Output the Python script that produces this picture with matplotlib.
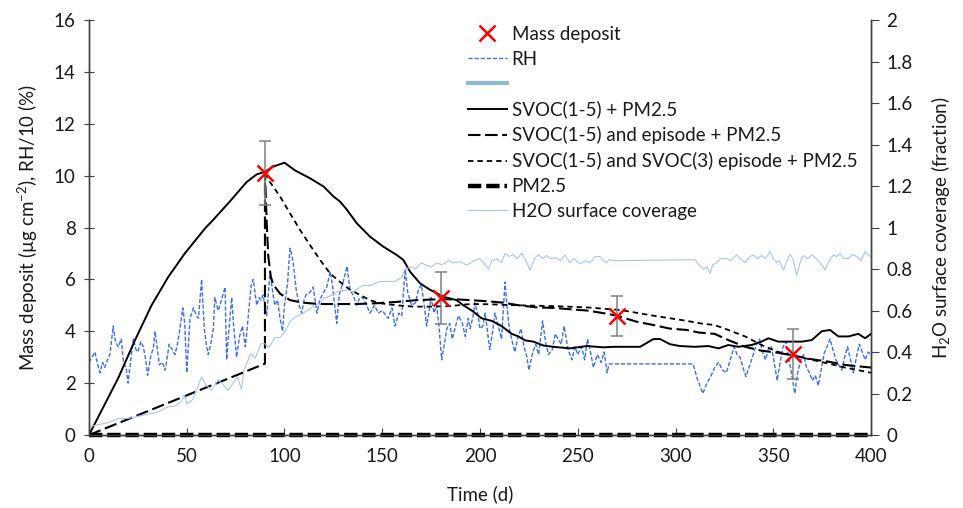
import matplotlib
matplotlib.use("Agg")
import matplotlib.pyplot as plt
from matplotlib.lines import Line2D
from matplotlib.ticker import FuncFormatter, MultipleLocator

# measured mass deposit with error bars
mass_days = [90, 180, 270, 360]
mass_vals = [10.1, 5.27, 4.59, 3.12]
mass_err = [1.25, 1.0, 0.77, 0.97]

# SVOC(1-5) + PM2.5
svoc_days = [0, 15, 23.5, 32, 40.6, 49, 59.3, 63.6, 72, 80.6, 85.8, 90, 94.3, 100,
             105.4, 113, 120, 125, 128.4, 131.8, 137, 143.7, 150.6, 157.4, 160.8,
             164.2, 169.3, 174.4, 181.3, 188, 191.5, 195.8, 200.8, 206, 211, 216.2,
             219.6, 223, 227.3, 232.4, 237.5, 246, 254.6, 263, 268.2, 281.9, 288.7,
             292.1, 297.2, 302.3, 310, 316.8, 322, 327, 332, 339, 344, 347.5, 352.6,
             357.7, 364.6, 369.7, 374.8, 379, 383.3, 388.4, 393.5, 397, 400]
svoc_vals = [0, 2.2, 3.65, 5.0, 6.1, 7.0, 7.96, 8.3, 9.0, 9.75, 10.05, 10.15, 10.35, 10.5,
             10.2, 9.9, 9.58, 9.2, 9.0, 8.7, 8.16, 7.65, 7.26, 6.94, 6.75,
             6.3, 5.85, 5.6, 5.33, 5.2, 5.0, 4.8, 4.5, 4.4, 4.2, 3.9,
             3.8, 3.65, 3.6, 3.45, 3.4, 3.34, 3.43, 3.38, 3.4, 3.4, 3.7,
             3.7, 3.5, 3.43, 3.4, 3.43, 3.34, 3.47, 3.4, 3.47, 3.6, 3.73, 3.6,
             3.6, 3.6, 3.66, 4.0, 4.05, 3.8, 3.8, 3.9, 3.73, 3.9]

# SVOC(1-5) and episode + PM2.5
epi_days = [0, 90, 90, 91, 91.7, 93, 94.3, 97.7, 102.8, 109.6, 118, 127, 137, 147,
            157, 167.6, 178, 188, 195, 205, 212, 220, 229, 237.5, 246, 254.6, 263,
            270, 280, 288.7, 297.2, 305.8, 312, 320, 327, 335.6, 344, 352.6, 361,
            369.7, 378, 386.7, 400]
epi_vals = [0, 2.75, 10.1, 8.0, 6.9, 6.1, 5.8, 5.45, 5.2, 5.1, 5.05, 5.05, 5.05, 5.08,
            5.13, 5.2, 5.23, 5.23, 5.2, 5.15, 5.1, 5.0, 4.92, 4.9, 4.85, 4.8, 4.7,
            4.6, 4.37, 4.24, 4.1, 4.05, 3.95, 3.9, 3.66, 3.4, 3.25, 3.17, 3.05,
            2.92, 2.83, 2.7, 2.6]

# SVOC(1-5) and SVOC(3) episode + PM2.5
epi3_days = [90, 92.6, 97.7, 102.8, 108, 113, 118.2, 123.3, 128.4, 133.5, 138.6,
             143.7, 148.9, 157.4, 165.9, 174.4, 184.7, 195, 205, 212, 220, 237.5,
             254.6, 271.7, 288.7, 305.8, 313, 320, 327, 335.6, 344, 352.6, 361,
             369.7, 378, 386.7, 400]
epi3_vals = [10.1, 9.75, 9.2, 8.55, 7.9, 7.33, 6.75, 6.23, 5.9, 5.6, 5.4,
             5.2, 5.08, 5.0, 4.95, 4.95, 4.97, 5.05, 5.04, 5.02, 5.0, 4.97,
             4.92, 4.82, 4.6, 4.4, 4.3, 4.24, 4.05, 3.8, 3.47, 3.2, 3.05,
             2.9, 2.76, 2.6, 2.4]

# PM2.5 only
pm_days = [0, 400]
pm_vals = [0, 0]

# RH/10 (%)
rh_days = [0, 1.5, 3, 4.5, 5.6, 7, 8, 9.5, 10.7, 12.4, 13.5, 15, 16.5, 17.6, 19, 20,
           21.5, 22.7, 24, 25, 26.5, 27.8, 29, 30, 31.5, 33, 33.8, 35, 36, 37.5, 39,
           40, 41, 42.5, 44, 45.5, 46.5, 48, 49, 50, 51, 51.7, 53.4, 55, 56, 57.6,
           59, 60, 61, 62.5, 63.6, 64.4, 66, 67, 68.5, 69.6, 70.4, 71.5, 73, 74,
           75.5, 77, 78.5, 80, 81.5, 83, 84, 85.8, 87, 88, 89, 90.9, 92.6, 94, 95,
           96.5, 97.7, 99, 100, 101.5, 102.8, 103.6, 104.5, 106, 107.5, 108.8, 110,
           111, 113, 114.7, 116.6, 118, 120, 121.6, 123.4, 124.5, 126.7, 128, 130,
           132, 133.5, 135, 137, 138.5, 140, 142, 143.7, 146, 148, 150, 153, 155,
           156.5, 158.5, 160, 161.7, 163, 165, 167, 168.5, 170, 171.5, 172.7, 174,
           175, 176.5, 177.8, 179, 180.4, 182, 183, 184.5, 185.8, 187.5, 189, 191,
           192.5, 194, 195, 196.5, 197.4, 199, 200, 201.5, 202.6, 204, 205, 206.5,
           207.6, 209, 211, 212.8, 214, 215, 216.5, 217.8, 219.5, 221, 222.5, 224,
           225, 227, 228.5, 230, 232, 233.5, 235, 237, 238.5, 240, 241.5, 243, 245,
           247, 248.5, 250, 252, 253.5, 255, 256.5, 258, 260, 262, 263.5, 265, 266,
           309, 311, 312.5, 314, 316, 318, 320, 322, 324, 326, 328, 330, 331.5, 333,
           334.5, 336, 338, 340, 341.5, 343, 344.5, 346, 347.5, 349, 350.5, 352,
           353.5, 355, 356.5, 358, 359.5, 361, 362.5, 364, 365.5, 367, 368.5, 370,
           371.5, 373, 374.5, 376, 377.5, 379, 380.5, 382, 383.5, 385, 386.5, 388,
           389.5, 391, 392.5, 394, 395.5, 397, 398.5, 400]
rh_vals = [2.8, 3.0, 3.2, 2.7, 2.4, 2.8, 2.6, 2.9, 3.1, 4.2, 3.6, 3.4, 3.7, 2.8, 2.6, 2.0,
           3.0, 3.7, 3.3, 3.2, 3.6, 3.4, 2.9, 2.3, 3.0, 3.4, 4.0, 3.3, 2.7, 2.8, 2.5,
           3.0, 3.5, 3.3, 3.1, 3.6, 4.1, 4.9, 4.3, 2.4, 3.6, 4.5, 4.9, 4.6, 4.5, 6.0,
           4.1, 3.5, 3.1, 3.6, 4.1, 5.3, 4.8, 5.0, 5.4, 5.7, 2.9, 4.0, 5.3, 4.2,
           3.0, 3.8, 4.2, 3.4, 4.6, 5.8, 6.0, 5.0, 5.3, 5.2, 5.4, 4.6, 6.3, 5.5, 5.0,
           5.2, 4.5, 4.0, 5.0, 5.8, 7.2, 7.0, 6.6, 5.6, 5.0, 4.7, 5.2,
           5.4, 5.5, 5.7, 4.7, 5.2, 5.5, 5.7, 6.3, 5.8, 4.3, 5.4, 5.9,
           6.5, 5.6, 5.4, 5.0, 5.3, 5.3, 5.0, 4.7, 5.0, 4.7, 4.8, 4.5, 4.9,
           4.2, 4.7, 4.6, 6.4, 5.5, 5.0, 5.1, 5.6, 5.8, 5.0, 4.2, 4.8,
           5.3, 4.7, 5.0, 4.2, 2.9, 3.6, 4.1, 4.3, 3.7, 4.2, 4.6, 4.3,
           3.8, 4.5, 4.1, 4.6, 5.1, 4.6, 4.1, 4.2, 4.7, 3.9, 3.3, 4.0,
           4.7, 4.3, 3.7, 5.9, 4.8, 4.1, 3.6, 3.2, 3.8, 4.1, 3.4, 3.0,
           2.5, 3.2, 3.5, 3.1, 4.4, 3.6, 3.1, 3.3, 3.9, 3.7, 3.5, 4.2, 3.3,
           2.9, 3.4, 3.1, 3.4, 2.9, 3.7, 3.2, 2.6, 3.1, 2.8, 3.2, 2.4, 2.74,
           2.74, 2.2, 1.9, 1.6, 2.0, 2.25, 2.6, 2.8, 2.5, 2.4, 2.9, 3.4, 3.1, 3.0,
           2.6, 2.25, 2.7, 3.15, 3.5, 3.7, 3.2, 2.9, 3.3, 3.4, 2.8, 2.1,
           2.8, 3.4, 3.6, 2.9, 2.3, 1.6, 2.4, 2.9, 3.1, 2.6, 2.4, 2.1,
           2.3, 1.9, 2.5, 3.15, 3.4, 3.7, 3.3, 2.9, 2.7, 2.5, 3.0, 3.4,
           2.9, 2.4, 3.0, 3.5, 3.2, 2.9, 3.2, 3.1]

# H2O surface coverage (fraction, right axis)
h2o_days = [0, 5, 10, 15, 20, 25, 30, 35, 40, 44, 47, 49, 50, 53, 57.6, 60, 62.7, 66,
            68, 71, 73, 76, 78, 79.2, 82.6, 85, 88, 90, 92, 95, 97.7, 100.3, 103,
            106, 110, 114.7, 118, 120, 123.3, 127, 131.8, 135, 140, 143.7, 148.8,
            152, 156.5, 160, 161.6, 165, 167, 170, 172, 175, 178, 180.4, 184, 186.4,
            189.8, 193, 195, 197, 200, 202, 204.3, 206, 208.6, 211, 212.8, 215, 217,
            219, 221.3, 223, 225.6, 228, 229.9, 232, 234.1, 236, 239.2, 241, 243.5,
            246, 248, 251.2, 254, 256.3, 259, 261.4, 263, 264.8, 266, 268.2, 310,
            312, 314.3, 316, 317.7, 319, 321, 323, 326.2, 328, 331.3, 333, 335.6,
            338, 339.8, 342, 344.1, 346, 348.4, 350, 351.8, 353, 355.2, 357, 358.6,
            360, 362, 364, 365.4, 367.5, 369.7, 372, 374, 376.5, 378.5, 380.8, 382.5,
            384.2, 386, 388.4, 390.5, 392.7, 395, 397, 399.5, 400]
h2o_vals = [0.04, 0.05, 0.06, 0.08, 0.08, 0.09, 0.10, 0.11, 0.135, 0.14, 0.16, 0.19,
            0.15, 0.17, 0.28, 0.24, 0.215, 0.265, 0.25, 0.215, 0.24, 0.28, 0.22, 0.31,
            0.39, 0.37, 0.44, 0.44, 0.42, 0.47, 0.47, 0.50, 0.55, 0.57, 0.59, 0.62,
            0.63, 0.66, 0.67, 0.69, 0.70, 0.69, 0.72, 0.72, 0.74, 0.74, 0.74, 0.76,
            0.80, 0.81, 0.80, 0.83, 0.82, 0.81, 0.83, 0.82, 0.84, 0.83, 0.835, 0.82,
            0.827, 0.84, 0.85, 0.83, 0.80, 0.84, 0.85, 0.83, 0.875, 0.86, 0.87, 0.85,
            0.875, 0.85, 0.795, 0.85, 0.87, 0.85, 0.865, 0.85, 0.855, 0.84, 0.868,
            0.83, 0.85, 0.825, 0.84, 0.83, 0.86, 0.86, 0.84, 0.83, 0.845, 0.84, 0.845,
            0.82, 0.80, 0.81, 0.78, 0.82, 0.83, 0.85, 0.85, 0.84, 0.868, 0.85, 0.83,
            0.86, 0.868, 0.85, 0.865, 0.85, 0.884, 0.85, 0.83, 0.84, 0.795, 0.84, 0.87,
            0.85, 0.77, 0.84, 0.865, 0.85, 0.868, 0.85, 0.83, 0.795, 0.84, 0.868, 0.86,
            0.875, 0.85, 0.85, 0.87, 0.86, 0.84, 0.885, 0.86, 0.86]

plt.rcParams['font.family'] = ['Lato', 'DejaVu Sans']
plt.rcParams['mathtext.fontset'] = 'custom'
plt.rcParams['mathtext.rm'] = 'Lato'
plt.rcParams['mathtext.it'] = 'Lato:italic'
plt.rcParams['font.size'] = 13.5

TEXT = '#1a1a1a'
AXC = '#404040'
RH_COL = '#3d6ef0'
H2O_COL = '#a9c3f7'

fig = plt.figure(figsize=(9.63, 5.08), dpi=100)
ax = fig.add_axes([0.0924, 0.1437, 0.8121, 0.8169])
ax2 = ax.twinx()

ax.plot(rh_days, rh_vals, color=RH_COL, lw=1.0, dashes=(3, 1.4), zorder=2)
ax2.plot(h2o_days, h2o_vals, color=H2O_COL, lw=0.8, zorder=1)

ax.plot(svoc_days, svoc_vals, color='black', lw=1.4, zorder=3)
ax.plot(epi_days, epi_vals, color='black', lw=1.5, dashes=(6, 2.2), zorder=3)
ax.plot(epi3_days, epi3_vals, color='black', lw=1.3, dashes=(3, 2.2), zorder=3)
ax.plot(pm_days, pm_vals, color='black', lw=3.2, dashes=(3, 1.1), zorder=4, clip_on=False)

ax.errorbar(mass_days, mass_vals, yerr=mass_err, fmt='none', ecolor='#808080',
            elinewidth=1.1, capsize=4, capthick=1.1, zorder=5)
ax.plot(mass_days, mass_vals, 'x', color='red', ms=11, mew=1.8, zorder=6)

ax.set_xlim(0, 400)
ax.set_ylim(0, 16)
ax2.set_ylim(0, 2)
ax.xaxis.set_major_locator(MultipleLocator(50))
ax.yaxis.set_major_locator(MultipleLocator(2))
ax2.yaxis.set_major_locator(MultipleLocator(0.2))
ax2.yaxis.set_major_formatter(FuncFormatter(lambda v, _: f'{v:g}'))

for a in (ax, ax2):
    a.spines['top'].set_visible(False)
    for s in a.spines.values():
        s.set_color(AXC)
        s.set_linewidth(1.0)
ax.tick_params(axis='y', direction='inout', length=7, color=AXC, labelcolor=TEXT, pad=6)
ax.tick_params(axis='x', direction='in', length=5, color=AXC, labelcolor=TEXT, pad=9)
ax2.tick_params(axis='y', direction='out', length=6, color=AXC, labelcolor=TEXT, pad=5)

ax.set_xlabel('Time (d)', color=TEXT, labelpad=15)
ax.set_ylabel('Mass deposit (µg cm$^{-2}$), RH/10 (%)', color=TEXT, labelpad=10)
ax2.set_ylabel('H$_2$O surface coverage (fraction)', color=TEXT, labelpad=12)

handles = [
    Line2D([], [], ls='none', marker='x', color='red', ms=11, mew=1.8),
    Line2D([], [], color=RH_COL, lw=1.0, dashes=(3, 1.4)),
    Line2D([], [], color='#8dbbd6', lw=3),
    Line2D([], [], color='black', lw=1.4),
    Line2D([], [], color='black', lw=1.5, dashes=(6, 2.2)),
    Line2D([], [], color='black', lw=1.3, dashes=(3, 2.2)),
    Line2D([], [], color='black', lw=3.2, dashes=(3, 1.1)),
    Line2D([], [], color=H2O_COL, lw=0.8),
]
labels = ['Mass deposit', 'RH', ' ', 'SVOC(1-5) + PM2.5',
          'SVOC(1-5) and episode + PM2.5',
          'SVOC(1-5) and SVOC(3) episode + PM2.5', 'PM2.5',
          'H2O surface coverage']
leg = ax2.legend(handles, labels, loc='upper left', bbox_to_anchor=(0.472, 0.975),
                 bbox_transform=fig.transFigure, frameon=False, handlelength=2.1,
                 handletextpad=0.25, labelspacing=0.42, borderpad=0.2, numpoints=1)
for t in leg.get_texts():
    t.set_color(TEXT)

fig.savefig('out.png', dpi=100)
